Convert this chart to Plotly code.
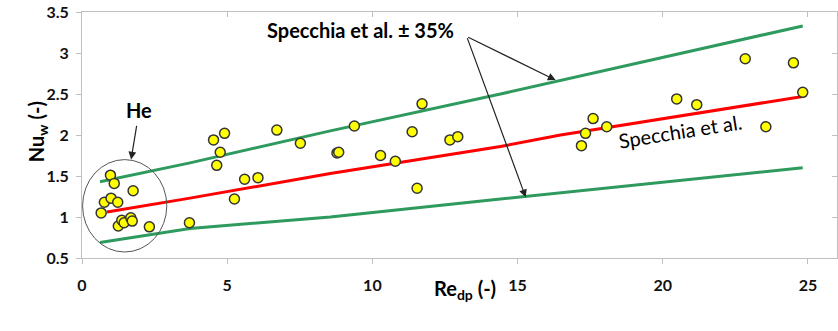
import plotly.graph_objects as go

# ---- data ----
re_pts = [0.66, 0.77, 0.98, 1.00, 1.11, 1.23, 1.76, 1.25, 1.37, 1.45, 1.68, 1.73, 2.32,
          3.70, 4.53, 4.91, 4.76, 4.64, 6.71, 7.52, 8.78, 5.60, 6.06, 5.25,
          9.38, 11.71, 8.84, 11.37, 10.28, 10.79, 12.67, 12.94, 11.54,
          17.60, 17.34, 17.20, 18.07, 20.48, 21.17, 22.84, 24.50, 24.82, 23.55]
nu_pts = [1.05, 1.18, 1.51, 1.23, 1.41, 1.18, 1.32, 0.89, 0.96, 0.93, 0.99, 0.95, 0.88,
          0.93, 1.94, 2.02, 1.79, 1.63, 2.06, 1.90, 1.78, 1.46, 1.48, 1.22,
          2.11, 2.38, 1.79, 2.04, 1.75, 1.68, 1.94, 1.98, 1.35,
          2.20, 2.02, 1.87, 2.10, 2.44, 2.37, 2.93, 2.88, 2.52, 2.10]

red_x = [0.86, 3.72, 8.55, 14.41, 16.48, 24.82]
red_y = [1.06, 1.23, 1.53, 1.86, 2.00, 2.47]

up_x = [0.62, 3.72, 8.55, 14.41, 24.82]
up_y = [1.43, 1.66, 2.05, 2.50, 3.33]

lo_x = [0.62, 3.72, 8.55, 14.41, 24.82]
lo_y = [0.69, 0.86, 1.00, 1.22, 1.60]

x_ticks = [0, 5, 10, 15, 20, 25]
y_ticks = [0.5, 1, 1.5, 2, 2.5, 3, 3.5]
y_tick_text = ["0.5", "1", "1.5", "2", "2.5", "3", "3.5"]

FONT = "Lato"
GREEN = "#2e9a5e"
AXC = "#bfbfbf"

fig = go.Figure()
fig.add_trace(go.Scatter(x=up_x, y=up_y, mode="lines", line=dict(color=GREEN, width=3), hoverinfo="skip"))
fig.add_trace(go.Scatter(x=lo_x, y=lo_y, mode="lines", line=dict(color=GREEN, width=3), hoverinfo="skip"))
fig.add_trace(go.Scatter(x=red_x, y=red_y, mode="lines", line=dict(color="#ff0000", width=3), hoverinfo="skip"))
fig.add_trace(go.Scatter(x=re_pts, y=nu_pts, mode="markers",
                         marker=dict(color="#ffff00", size=10, line=dict(color="#333333", width=1.5))))

# He circle
fig.add_shape(type="circle", xref="x", yref="y", x0=0.02, x1=2.92, y0=0.573, y1=1.70,
              line=dict(color="#555555", width=1))

ann = []
ARW = dict(xref="x", yref="y", axref="x", ayref="y", text="", showarrow=True,
           arrowhead=2, arrowsize=1.3, arrowwidth=1.2, arrowcolor="#222222")
# He label and arrow
ann.append(dict(x=1.69, y=1.70, ax=1.89, ay=2.13, **ARW))
ann.append(dict(x=1.97, y=2.31, xref="x", yref="y", text="<b>He</b>", showarrow=False,
                font=dict(family=FONT, size=20, color="#000000")))
# Specchia ±35% label and two arrows
ann.append(dict(x=16.31, y=2.67, ax=13.25, ay=3.20, **ARW))
ann.append(dict(x=15.28, y=1.24, ax=13.25, ay=3.20, **ARW))
ann.append(dict(x=9.58, y=3.28, xref="x", yref="y", text="<b>Specchia et al. ± 35%</b>", showarrow=False,
                font=dict(family=FONT, size=20, color="#000000")))
# Specchia et al. label along red line
ann.append(dict(x=20.6, y=2.05, xref="x", yref="y", text="Specchia et al.", showarrow=False, textangle=-9,
                font=dict(family=FONT, size=20, color="#000000")))
# axis titles
ann.append(dict(x=0.507, y=-0.192, xref="paper", yref="paper", text="<b>Re<sub>dp</sub> (-)</b>",
                showarrow=False, font=dict(family=FONT, size=20, color="#000000")))
ann.append(dict(x=-0.08, y=0.512, xref="paper", yref="paper", text="<b>Nu<sub>w</sub> (-)</b>",
                showarrow=False, textangle=-90, font=dict(family=FONT, size=20, color="#000000")))

fig.update_layout(
    width=838, height=331,
    margin=dict(l=82, r=1, t=12, b=73, autoexpand=False),
    paper_bgcolor="white", plot_bgcolor="white",
    showlegend=False,
    annotations=ann,
    font=dict(family=FONT),
    xaxis=dict(range=[0, 26], tickvals=x_ticks, ticktext=[str(v) for v in x_ticks], automargin=False,
               showgrid=False, zeroline=False, showline=True, linecolor=AXC, linewidth=1,
               ticks="outside", ticklen=5, tickcolor=AXC, ticklabelstandoff=8,
               ticklabeloverflow="allow",
               tickfont=dict(family=FONT, size=16, color="#111111", weight="bold")),
    yaxis=dict(range=[0.5, 3.5], tickvals=y_ticks, ticktext=y_tick_text, automargin=False,
               showgrid=False, zeroline=False, showline=True, linecolor=AXC, linewidth=1,
               ticks="outside", ticklen=5, tickcolor=AXC, ticklabelstandoff=4,
               ticklabeloverflow="allow",
               tickfont=dict(family=FONT, size=16, color="#111111", weight="bold")),
    xaxis2=dict(range=[0, 26], overlaying="x", side="top", tickvals=x_ticks, showticklabels=False,
                automargin=False, showgrid=False, zeroline=False, showline=True, linecolor=AXC, linewidth=1,
                ticks="inside", ticklen=5, tickcolor=AXC),
    yaxis2=dict(range=[0.5, 3.5], overlaying="y", side="right", tickvals=y_ticks, showticklabels=False,
                automargin=False, showgrid=False, zeroline=False, showline=True, linecolor=AXC, linewidth=1,
                ticks="inside", ticklen=5, tickcolor=AXC),
)
# invisible trace to activate secondary axes
fig.add_trace(go.Scatter(x=[0], y=[0.5], xaxis="x2", yaxis="y2", mode="markers",
                         marker=dict(opacity=0), hoverinfo="skip"))

# remove the default page margin so the figure sits at the window's top-left corner
fig.write_html("out.html", config={"displayModeBar": False},
               post_script="document.body.style.margin='0';")
